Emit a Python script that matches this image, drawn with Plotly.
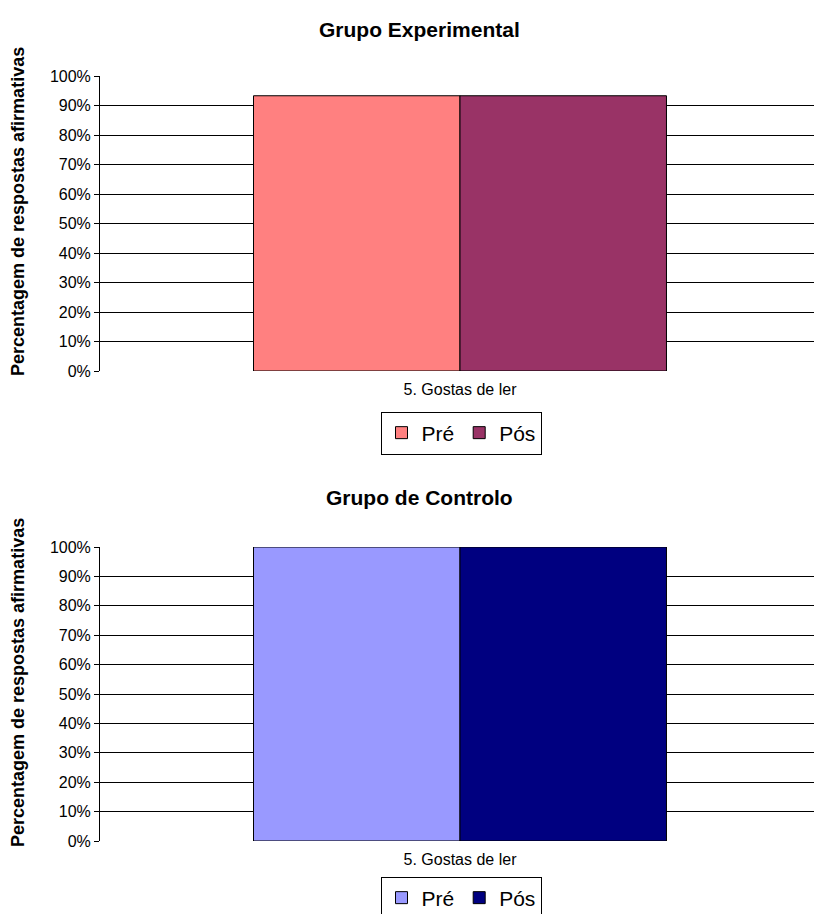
import plotly.graph_objects as go

categories = ["5. Gostas de ler"]
exp_pre = [93.3]
exp_pos = [93.3]
ctl_pre = [100]
ctl_pos = [100]
series_names = ["Pré", "Pós"]
tick_vals = list(range(0, 101, 10))
tick_labels = [f"{v}%" for v in tick_vals]

W, H = 814, 914
FONT = "Liberation Sans, Arial, sans-serif"

def px_(x):
    return x / W

def py(y):
    return 1 - y / H

fig = go.Figure()
fig.add_trace(go.Bar(x=categories, y=exp_pre, name=series_names[0], marker=dict(color="#FF8080", line=dict(color="black", width=1)), xaxis="x", yaxis="y", legend="legend"))
fig.add_trace(go.Bar(x=categories, y=exp_pos, name=series_names[1], marker=dict(color="#993366", line=dict(color="black", width=1)), xaxis="x", yaxis="y", legend="legend"))
fig.add_trace(go.Bar(x=categories, y=ctl_pre, name=series_names[0], marker=dict(color="#9999FF", line=dict(color="black", width=1)), xaxis="x2", yaxis="y2", legend="legend2"))
fig.add_trace(go.Bar(x=categories, y=ctl_pos, name=series_names[1], marker=dict(color="#000080", line=dict(color="black", width=1)), xaxis="x2", yaxis="y2", legend="legend2"))

# plot area from x=100 to 814; category centre at x=460
xcommon = dict(domain=[px_(100), 1], range=[-0.5, 0.4917], showgrid=False, showline=False, ticks="",
               tickfont=dict(size=16, color="black", family=FONT), ticklabelstandoff=7, zeroline=False,
               automargin=False)
ycommon = dict(range=[0, 100], tickmode="array", tickvals=tick_vals, ticktext=tick_labels, showgrid=True,
               gridcolor="black", gridwidth=1, showline=True, linecolor="black", linewidth=1, ticks="outside",
               ticklen=5, tickcolor="black", tickfont=dict(size=16, color="black", family=FONT), zeroline=False,
               automargin=False)

legcommon = dict(orientation="h", xanchor="center", yanchor="middle", x=px_(461), bordercolor="black", borderwidth=1,
                 bgcolor="white", font=dict(size=21, color="black", family=FONT), itemwidth=30, tracegroupgap=0,
                 traceorder="normal")

fig.update_layout(
    width=W, height=H, margin=dict(l=0, r=0, t=0, b=0, autoexpand=False),
    paper_bgcolor="white", plot_bgcolor="white",
    barmode="group", bargap=0.4264, bargroupgap=0,
    font=dict(family=FONT, color="black"),
    xaxis=dict(**xcommon, anchor="y"),
    yaxis=dict(**ycommon, domain=[py(371), py(76)], anchor="x"),
    xaxis2=dict(**xcommon, anchor="y2"),
    yaxis2=dict(**ycommon, domain=[py(841), py(547)], anchor="x2"),
    legend=dict(**legcommon, y=py(433)),
    legend2=dict(**legcommon, y=py(898)),
    annotations=[
        dict(text="<b>Grupo Experimental</b>", x=px_(419), y=py(30), xref="paper", yref="paper", showarrow=False,
             font=dict(size=21, family=FONT, color="black"), xanchor="center", yanchor="middle"),
        dict(text="<b>Grupo de Controlo</b>", x=px_(419), y=py(497), xref="paper", yref="paper", showarrow=False,
             font=dict(size=21, family=FONT, color="black"), xanchor="center", yanchor="middle"),
        dict(text="<b>Percentagem de respostas afirmativas</b>", x=px_(18), y=py(212), xref="paper", yref="paper",
             showarrow=False, textangle=-90, font=dict(size=18, family=FONT, color="black"), xanchor="center", yanchor="middle"),
        dict(text="<b>Percentagem de respostas afirmativas</b>", x=px_(18), y=py(683), xref="paper", yref="paper",
             showarrow=False, textangle=-90, font=dict(size=18, family=FONT, color="black"), xanchor="center", yanchor="middle"),
    ],
)

fig.write_html("out.html", config={"displayModeBar": False},
               post_script="document.body.style.margin='0';document.body.style.overflow='hidden';")
